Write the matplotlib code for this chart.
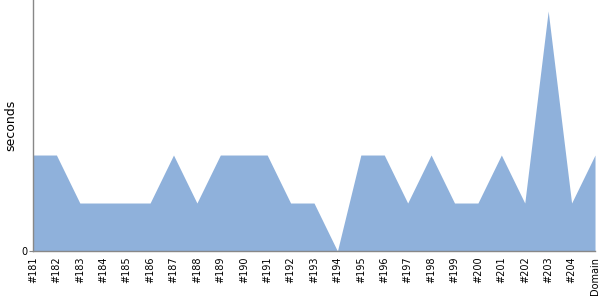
import matplotlib
matplotlib.use("Agg")
import matplotlib.pyplot as plt

labels = ["#181", "#182", "#183", "#184", "#185", "#186", "#187", "#188",
          "#189", "#190", "#191", "#192", "#193", "#194", "#195", "#196",
          "#197", "#198", "#199", "#200", "#201", "#202", "#203", "#204",
          "Domain"]
seconds = [2, 2, 1, 1, 1, 1, 2, 1, 2, 2, 2, 1, 1, 0, 2, 2, 1, 2, 1, 1,
           2, 1, 5, 1, 2]

fig = plt.figure(figsize=(6, 3), dpi=100)
ax = fig.add_axes([0.055, 0.1633, 0.9367, 0.8367])

x = list(range(len(labels)))
ax.fill_between(x, seconds, 0, color="#8fb1db", linewidth=0)

ax.set_xlim(0, len(labels) - 1)
ax.set_ylim(0, 5.23)
ax.set_xticks(x)
ax.set_xticklabels(labels, rotation=90, fontsize=7)
ax.set_yticks([0])
ax.set_yticklabels(["0"], fontsize=7)
ax.tick_params(axis="x", length=0, pad=4)
ax.tick_params(axis="y", length=3, pad=1, color="#888888")
ax.set_ylabel("seconds", fontsize=9, labelpad=3)

for side in ["top", "right"]:
    ax.spines[side].set_visible(False)
for side in ["left", "bottom"]:
    ax.spines[side].set_color("#888888")
    ax.spines[side].set_linewidth(1)

fig.savefig("out.png", dpi=100)
